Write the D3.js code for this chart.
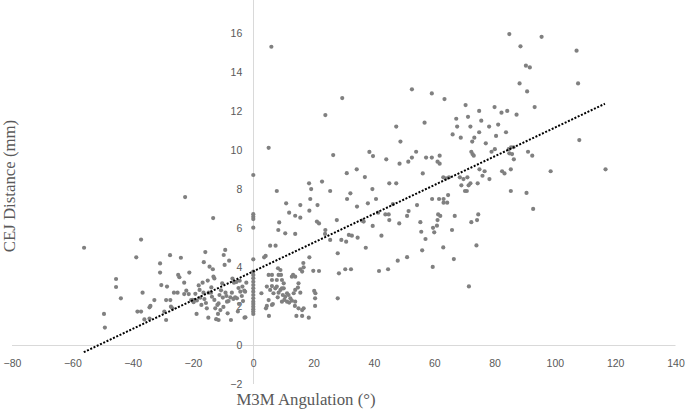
<!DOCTYPE html>
<html>
<head>
<meta charset="utf-8">
<script src="https://cdn.jsdelivr.net/npm/d3@7"></script>
<style>
  html, body { margin: 0; padding: 0; background: #fff; }
  #chart { width: 685px; height: 412px; }
  .axis-title { font-family: "Liberation Serif", Tinos, "Times New Roman", "DejaVu Serif", serif; font-size: 16.8px; }
  .tick text { font-family: "Liberation Sans", Arimo, Arial, sans-serif; font-size: 10.5px; }
</style>
</head>
<body>
<div id="chart"></div>
<script>
// [angulation °, CEJ distance mm]
const leftCluster = [
  [-56.1,4.98],[-37.2,5.4],[-38.8,4.49],[-45.5,3.38],[-45.5,2.97],[-43.9,2.39],[-49.5,1.59],[-49.2,0.89],
  [-36.7,2.68],[-38.4,1.71],[-37.2,1.71],[-36.1,1.31],[-34.4,1.93],[-34.1,2.0],[-32.8,2.3],[-34.4,1.35],
  [-30.9,4.18],[-30.9,3.71],[-30.5,3.07],[-28.9,2.3],[-27.5,2.3],[-28.6,2.99],[-29.5,1.71],[-28.9,1.28],
  [-27.6,4.6],[-27.3,1.96],[-26.8,1.88],[-26.3,2.68],[-25.1,2.68],[-24.9,3.59],[-24.5,3.47],[-24.0,4.47],
  [-22.9,3.19],[-22.9,2.61],[-22.2,2.78],[-21.2,3.71],[-21.4,2.61],[-20.6,2.3],[-22.6,7.58],[-13.3,6.5],
  [-20.1,2.31],[-19.8,2.19],[-18.7,2.28],[-18.8,1.59],[-19.2,2.62],[-18.1,3.05],[-17.2,2.05],[-16.2,2.35],
  [-15.1,3.3],[-13.9,2.95],[-10.1,2.43],[-9.9,1.95],[-8.5,1.62],[-6.9,3.4],[-5.1,1.72],[-4.7,2.1],
  [-17.8,2.82],[-17.6,2.42],[-16.8,3.19],[-16.5,2.68],[-15.9,4.76],[-16.4,4.24],[-15.7,2.15],[-15.4,1.88],
  [-14.9,1.40],[-14.8,2.68],[-14.5,4.01],[-14.0,2.68],[-13.7,2.47],[-13.4,3.88],[-13.2,3.5],[-12.9,3.41],
  [-12.9,2.31],[-12.6,1.88],[-12.3,1.32],[-11.9,2.05],[-11.7,1.59],[-11.5,2.13],[-11.5,1.28],[-11.2,2.56],
  [-10.9,1.79],[-10.7,2.80],[-10.3,3.16],[-9.8,4.61],[-9.5,4.10],[-9.3,4.87],[-9.2,2.68],[-8.9,2.51],
  [-8.7,2.22],[-8.2,2.25],[-8.0,4.32],[-7.6,2.44],[-7.4,1.28],[-7.1,2.68],[-6.6,2.36],[-6.4,3.19],
  [-6.0,2.44],[-5.6,3.23],[-5.4,2.39],[-4.9,2.92],[-4.5,3.29],[-4.3,2.73],[-3.8,2.51],[-3.6,2.99],
  [-3.4,2.25],[-3.0,2.78],[-2.9,1.40],[-2.7,2.73],[-2.3,3.19],[-2.6,1.42]
];

const zeroColumn = [
  [0,8.71],[0,6.70],[0,6.57],[0,6.45],[0,6.01],[0,4.39],[0,3.76],[0,3.59],[0,3.42],[0,3.24],[0,3.07],
  [0,2.90],[0,2.73],[0,2.56],[0,2.39],[0,2.22],[0,2.10],[0,1.96],[0,1.83],[0,1.71],[0,1.59]
];

const lowCluster = [
  [6.0,15.28],[5.1,10.1],[7.8,7.89],[3.6,4.49],[4.1,4.56],[5.6,5.09],[7.4,5.09],[8.6,6.28],[8.3,5.89],
  [10.9,7.26],[11.9,6.78],[10.6,5.72],[13.9,6.62],[15.6,6.52],[13.9,5.69],[15.6,7.17],[18.5,8.28],
  [22.8,8.37],[19.2,7.99],[18.9,7.48],[18.6,6.88],[21.3,7.17],[21.1,6.32],[21.8,6.23],[23.9,5.89],
  [25.5,7.89],[23.8,5.69],[25.5,5.38],[27.7,6.40],[29.2,5.38],[30.8,5.29],[31.1,7.48],[32.2,7.77],
  [31.7,5.64],[32.7,5.60],[34.4,7.09],[34.6,5.50],[36.1,6.37],[36.6,6.32],[38.0,7.26],[39.5,7.99],
  [40.7,7.48],[39.6,6.10],[41.4,6.78],[42.5,5.60],[43.8,6.69],[44.9,6.69],[45.1,8.28],[47.4,8.28],
  [45.1,6.40],[46.3,7.22],[47.9,4.32],[48.4,6.23],[37.3,4.98],[28.0,4.70],[28.4,3.67],[30.5,3.88],
  [32.4,3.88],[28.0,2.39],[21.8,3.79],[41.7,3.79],[44.7,3.88],[20.2,2.77],[20.6,2.65],[20.5,2.39],
  [20.5,2.00],[18.4,1.40],[16.2,1.49],[14.3,1.49],[16.7,1.88],[16.2,1.79],[13.8,2.0],[15.0,1.88],
  [5.2,1.49],[4.2,1.88],[4.5,2.0],[6.2,2.05],[6.5,2.1],[5.1,2.30],[2.7,2.65],[4.5,2.99],[6.2,3.02],
  [7.3,2.90],[7.8,2.99],[9.0,2.82],[9.5,2.90],[10.1,2.90],[11.2,2.65],[11.7,2.56],[12.3,2.39],
  [13.4,2.65],[13.9,2.82],[14.8,2.94],[15.6,2.68],[6.2,3.33],[7.8,3.33],[9.5,3.33],[5.1,3.59],
  [6.2,3.59],[8.4,3.59],[9.2,3.59],[8.2,3.93],[9.0,3.84],[12.8,3.50],[13.2,3.59],[13.9,3.50],
  [15.0,3.16],[16.2,3.76],[15.6,3.88],[16.7,3.98],[8.1,2.44],[9.8,2.56],[10.3,2.31],[11.2,2.22],
  [11.9,2.17],[12.8,2.27],[13.9,2.22],[9.5,2.22],[6.7,2.65],[8.4,2.68],[10.1,3.16],[5.6,2.82],
  [10.6,2.47],[16.6,4.2],[18.6,4.49],[19.9,3.8]
];

const upperCluster = [
  [90.4,14.31],[91.7,14.22],[88.3,13.4],[90.8,12.99],[107.7,13.4],[108.1,10.50],[116.8,9.0],[93.3,12.19],
  [98.6,8.90],[92.8,6.97],[90.6,7.79],[85.4,7.89],[52.6,13.10],[59.2,12.89],[63.4,12.6],[56.8,11.39],
  [47.4,11.19],[48.8,10.42],[44.1,9.51],[54.0,9.9],[52.6,9.6],[51.4,9.39],[48.5,9.29],[57.3,9.6],
  [59.2,9.6],[61.1,9.39],[61.8,9.29],[61.8,9.70],[56.2,8.79],[70.4,12.29],[67.3,11.59],[71.2,11.69],
  [74.9,11.99],[80.0,12.19],[82.3,11.9],[84.2,11.99],[87.3,11.80],[67.6,11.19],[72.0,11.19],[75.6,11.49],
  [78.2,11.19],[81.2,11.29],[66.1,10.79],[68.8,10.62],[73.3,10.62],[72.6,10.42],[74.9,10.90],[80.5,10.71],
  [83.8,10.90],[77.1,10.33],[72.3,9.9],[72.7,9.78],[73.1,9.70],[79.0,9.9],[80.1,10.03],[84.7,10.03],
  [85.5,10.13],[86.3,10.13],[84.9,9.82],[85.8,9.78],[91.1,9.9],[92.5,9.70],[86.4,9.51],[75.0,9.0],
  [76.7,8.9],[76.0,8.67],[78.3,8.5],[82.5,8.9],[83.3,8.79],[85.4,9.0],[68.5,8.59],[69.7,8.5],[71.0,8.59],
  [69.0,8.18],[71.4,8.18],[72.0,8.28],[70.2,7.89],[70.8,7.89],[74.4,8.28],[63.0,8.59],[63.9,8.54],
  [64.9,8.59],[61.6,7.48],[63.1,7.48],[64.3,7.29],[64.6,7.68],[63.1,7.29],[59.3,7.48],[54.3,7.17],
  [51.0,6.61],[51.5,6.86],[55.4,6.29],[55.7,5.80],[57.1,5.43],[59.6,6.0],[60.0,5.77],[60.9,6.11],
  [61.1,6.40],[62.0,6.61],[61.3,6.69],[65.9,5.89],[66.8,6.61],[72.3,6.29],[74.2,6.40],[74.6,6.69],
  [95.6,15.79],[107.2,15.08],[84.9,15.93],[88.6,15.3],[29.5,12.65],[23.9,11.78],[26.5,9.73],[38.5,9.89],
  [39.7,9.68],[34.3,9.0],[31.0,8.8],[37.0,8.6],[51.0,4.5],[56.0,4.85],[59.5,4.0],[63.0,5.0],[66.5,4.4],
  [71.5,3.0],[74.0,5.1]
];

const xTicks = [-80, -60, -40, -20, 0, 20, 40, 60, 80, 100, 120, 140];
const yTicks = [-2, 0, 2, 4, 6, 8, 10, 12, 14, 16];
const yAxisTop = 17.7;
const trendAngle = [-56.2, 116.6];
const trendCej = [-0.37, 12.36];

const width = 685, height = 412;
const axisColor = '#d9d9d9';
const textColor = '#595959';
const pointColor = '#808080';

const svg = d3.select('#chart').append('svg')
  .attr('width', width)
  .attr('height', height)
  .style('display', 'block');

const x = d3.scaleLinear().domain([-80, 140]).range([12, 675.5]);
const y = d3.scaleLinear().domain([-2, 16]).range([384, 32.7]);

const x0 = Math.round(x(0)) + 0.5;
const y0 = Math.round(y(0)) + 0.5;

// axis lines crossing at the origin
svg.append('line')
  .attr('x1', x(-80)).attr('x2', x(140))
  .attr('y1', y0).attr('y2', y0)
  .attr('stroke', axisColor).attr('stroke-width', 1);
svg.append('line')
  .attr('x1', x0).attr('x2', x0)
  .attr('y1', y(-2)).attr('y2', y(yAxisTop))
  .attr('stroke', axisColor).attr('stroke-width', 1);

svg.append('g')
  .attr('transform', `translate(0,${y(0)})`)
  .attr('font-family', null).attr('font-size', null)
  .call(d3.axisBottom(x).tickValues(xTicks).tickSize(0).tickPadding(15).tickSizeOuter(0))
  .call(g => g.select('.domain').remove())
  .call(g => g.selectAll('text').attr('fill', textColor));

svg.append('g')
  .attr('transform', `translate(${x(0)},0)`)
  .call(d3.axisLeft(y).tickValues(yTicks).tickSize(0).tickPadding(11).tickSizeOuter(0))
  .call(g => g.attr('font-family', null).attr('font-size', null))
  .call(g => g.select('.domain').remove())
  .call(g => g.selectAll('text').attr('fill', textColor));

const allPoints = leftCluster.concat(zeroColumn, lowCluster, upperCluster);

svg.append('g').selectAll('circle').data(allPoints).enter().append('circle')
  .attr('cx', d => x(d[0]))
  .attr('cy', d => y(d[1]))
  .attr('r', 2.1)
  .attr('fill', pointColor);

const trend = trendAngle.map((a, i) => [a, trendCej[i]]);
svg.append('path').datum(trend)
  .attr('fill', 'none')
  .attr('stroke', '#000')
  .attr('stroke-width', 2)
  .attr('stroke-dasharray', '2 1.6')
  .attr('d', d3.line().x(d => x(d[0])).y(d => y(d[1])));

svg.append('text')
  .attr('class', 'axis-title')
  .attr('x', 306).attr('y', 405)
  .attr('text-anchor', 'middle')
  .attr('fill', textColor)
  .text('M3M Angulation (°)');

svg.append('text')
  .attr('class', 'axis-title')
  .attr('transform', 'translate(14.5,186) rotate(-90)')
  .attr('text-anchor', 'middle')
  .attr('fill', textColor)
  .text('CEJ Distance (mm)');
</script>
</body>
</html>
